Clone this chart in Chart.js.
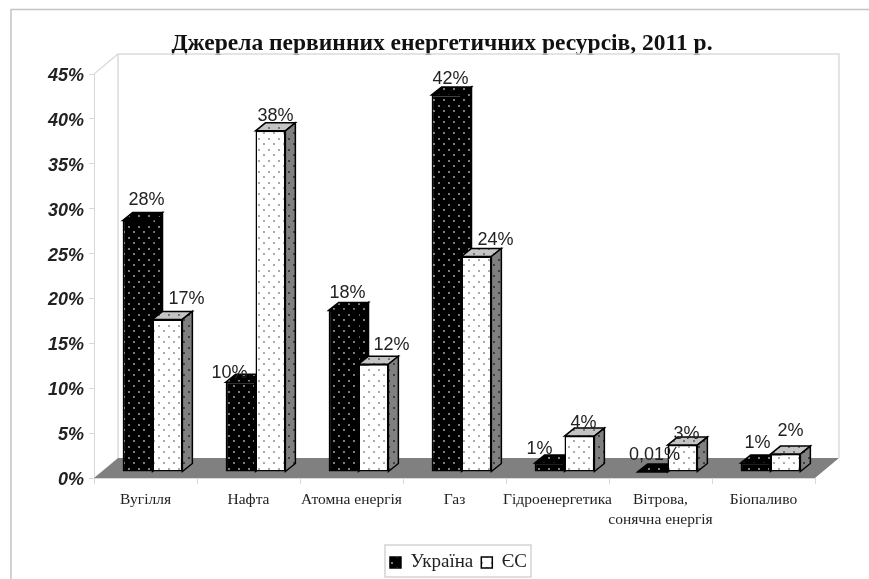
<!DOCTYPE html>
<html lang="uk">
<head>
<meta charset="utf-8">
<title>Джерела первинних енергетичних ресурсів</title>
<script src="https://cdn.jsdelivr.net/npm/chart.js@4"></script>
<style>
  html, body { margin: 0; padding: 0; background: #fff; }
  canvas { display: block; }
</style>
</head>
<body>
<canvas id="energyChart" width="869" height="579"></canvas>
<script>
const categories = ['Вугілля', 'Нафта', 'Атомна енергія', 'Газ', 'Гідроенергетика', ['Вітрова,', 'сонячна енергія'], 'Біопаливо'];
const ukraineValues = [28, 10, 18, 42, 1, 0.01, 1];
const euValues = [17, 38, 12, 24, 4, 3, 2];
const yMax = 45;
const yStep = 5;

// Hand placement of the value labels, relative to the top of each bar
const ukraineLabelShift = [[9, -21], [-11, -9], [4, -17], [4, -16], [-10, -14], [2, -17], [2, -20]];
const euLabelShift = [[19, -20], [5, -15], [18, -19], [19, -17], [4, -13], [4, -11], [5, -23]];

const wallDepth = { x: 24, y: 20 };  // floor and back wall
const barDepth = { x: 10, y: 8 };    // side and top faces of a bar
const barShift = { x: 7, y: 6 };     // bars stand a little behind the front edge
const legendNudge = 4;
const legendFrameHeight = 32;

// Dotted fill, two staggered rows of dots per tile
function dotPattern(background, dots) {
    const tile = document.createElement('canvas');
    tile.width = 10;
    tile.height = 11;
    const c = tile.getContext('2d');
    c.fillStyle = background;
    c.fillRect(0, 0, 10, 11);
    c.fillStyle = dots;
    [[2, 2], [7, 7]].forEach(([x, y]) => {
        c.beginPath();
        c.arc(x, y, 0.9, 0, Math.PI * 2);
        c.fill();
    });
    return c.createPattern(tile, 'repeat');
}

const blackFill = dotPattern('#000000', '#b8b8b8');
const whiteFill = dotPattern('#ffffff', '#808080');
const sideFill = dotPattern('#808080', '#202020');
const topFill = dotPattern('#c4c4c4', '#505050');

function polygon(ctx, points, fill, stroke) {
    ctx.beginPath();
    points.forEach(([x, y], i) => (i ? ctx.lineTo(x, y) : ctx.moveTo(x, y)));
    ctx.closePath();
    ctx.fillStyle = fill;
    ctx.fill();
    if (stroke) {
        ctx.strokeStyle = stroke;
        ctx.lineWidth = 1.5;
        ctx.stroke();
    }
}

// Frame, back wall and floor behind the bars
function drawRoom(chart) {
    const { ctx, chartArea: a } = chart;
    const dx = wallDepth.x, dy = wallDepth.y;
    ctx.save();
    ctx.strokeStyle = '#dcdcdc';
    ctx.lineWidth = 1.5;
    ctx.beginPath();
    ctx.moveTo(a.left, a.top);
    ctx.lineTo(a.left + dx, a.top - dy);
    ctx.lineTo(a.right + dx, a.top - dy);
    ctx.lineTo(a.right + dx, a.bottom - dy);
    ctx.moveTo(a.left + dx, a.top - dy);
    ctx.lineTo(a.left + dx, a.bottom - dy);
    ctx.stroke();
    polygon(ctx, [[a.left, a.bottom], [a.right, a.bottom], [a.right + dx, a.bottom - dy], [a.left + dx, a.bottom - dy]], '#808080');
    ctx.restore();
}

function drawBarFaces(chart, datasetIndex, side, top) {
    const { ctx } = chart;
    chart.getDatasetMeta(datasetIndex).data.forEach(bar => {
        const left = bar.x - bar.width / 2;
        const right = bar.x + bar.width / 2;
        const dx = barDepth.x, dy = barDepth.y;
        polygon(ctx, [[left, bar.y], [left + dx, bar.y - dy], [right + dx, bar.y - dy], [right, bar.y]], top, '#000');
        polygon(ctx, [[right, bar.y], [right + dx, bar.y - dy], [right + dx, bar.base - dy], [right, bar.base]], side, '#000');
    });
}

function drawValueLabels(chart, datasetIndex, values, shifts) {
    const { ctx } = chart;
    ctx.save();
    ctx.font = '18px "Liberation Sans"';
    ctx.fillStyle = '#222';
    ctx.textAlign = 'center';
    ctx.textBaseline = 'middle';
    chart.getDatasetMeta(datasetIndex).data.forEach((bar, i) => {
        const text = String(values[i]).replace('.', ',') + '%';
        ctx.fillText(text, bar.x + barShift.x + shifts[i][0], bar.y - barShift.y + shifts[i][1]);
    });
    ctx.restore();
}

const box3d = {
    id: 'box3d',
    afterLayout(chart) {
        chart.legend.left += legendNudge;
        chart.legend.right += legendNudge;
    },
    beforeDraw(chart) {
        const { ctx } = chart;
        ctx.save();
        ctx.strokeStyle = '#c4c4c4';
        ctx.lineWidth = 1.5;
        ctx.beginPath();
        ctx.moveTo(869, 9.5);
        ctx.lineTo(11, 9.5);
        ctx.lineTo(11, 579);
        ctx.stroke();
        ctx.restore();
    },
    beforeDatasetsDraw(chart) {
        const { ctx } = chart;
        drawRoom(chart);
        ctx.save();
        ctx.translate(barShift.x, -barShift.y);
        drawBarFaces(chart, 0, blackFill, blackFill);
        drawBarFaces(chart, 1, sideFill, topFill);
    },
    afterDatasetsDraw(chart) {
        chart.ctx.restore();
        drawValueLabels(chart, 0, ukraineValues, ukraineLabelShift);
        drawValueLabels(chart, 1, euValues, euLabelShift);
    },
    afterDraw(chart) {
        // Frame round the legend
        const { ctx, legend } = chart;
        const boxes = legend.legendHitBoxes;
        const last = boxes[boxes.length - 1];
        ctx.save();
        ctx.strokeStyle = '#d4d4d4';
        ctx.lineWidth = 1.5;
        ctx.strokeRect(boxes[0].left + legendNudge - 9, legend.top, last.left + last.width - boxes[0].left + 9, legendFrameHeight);
        ctx.restore();
    }
};

const chart = new Chart(document.getElementById('energyChart').getContext('2d'), {
    type: 'bar',
    plugins: [box3d],
    data: {
        labels: categories,
        datasets: [
            { label: 'Україна', data: ukraineValues, backgroundColor: blackFill, borderColor: '#000', borderWidth: 1.5, borderSkipped: false, clip: false },
            { label: 'ЄС', data: euValues, backgroundColor: whiteFill, borderColor: '#000', borderWidth: 1.5, borderSkipped: false, clip: false }
        ]
    },
    options: {
        responsive: false,
        animation: false,
        datasets: { bar: { categoryPercentage: 0.58, barPercentage: 1 } },
        layout: { padding: { left: 15, right: 0, top: 0, bottom: -3 } },
        plugins: {
            tooltip: { enabled: false },
            title: {
                display: true,
                text: 'Джерела первинних енергетичних ресурсів, 2011 р.',
                color: '#111',
                font: { family: '"Liberation Serif"', size: 23.5, weight: 'bold', lineHeight: 1.2 },
                padding: { top: 30, bottom: 15.8 }
            },
            legend: {
                position: 'bottom',
                fullSize: false,
                labels: {
                    boxWidth: 11,
                    boxHeight: 11,
                    padding: 8,
                    color: '#222',
                    font: { family: '"Liberation Serif"', size: 19, lineHeight: 0.9 }
                }
            }
        },
        scales: {
            x: {
                grid: { drawOnChartArea: false, tickLength: 6, color: '#d8d8d8' },
                border: { color: '#d8d8d8' },
                ticks: {
                    autoSkip: false,
                    maxRotation: 0,
                    padding: 5,
                    color: '#222',
                    font: { family: '"Liberation Serif"', size: 15.5, lineHeight: 1.35 }
                },
                afterFit(scale) { scale.height = 67; }
            },
            y: {
                min: 0,
                max: yMax,
                grid: { drawOnChartArea: false, tickLength: 5, color: '#d8d8d8' },
                border: { color: '#d8d8d8' },
                ticks: {
                    stepSize: yStep,
                    padding: 5,
                    labelOffset: 2,
                    color: '#222',
                    font: { family: '"Liberation Sans"', size: 18, style: 'italic', weight: 'bold' },
                    callback: value => value + '%'
                },
                afterFit(scale) { scale.width = 79; }
            },
            // Empty axis that keeps the space right of the floor free
            rightGap: {
                position: 'right',
                min: 0,
                max: yMax,
                grid: { display: false },
                border: { display: false },
                ticks: { display: false },
                afterFit(scale) { scale.width = 54; }
            }
        }
    }
});
</script>
</body>
</html>
